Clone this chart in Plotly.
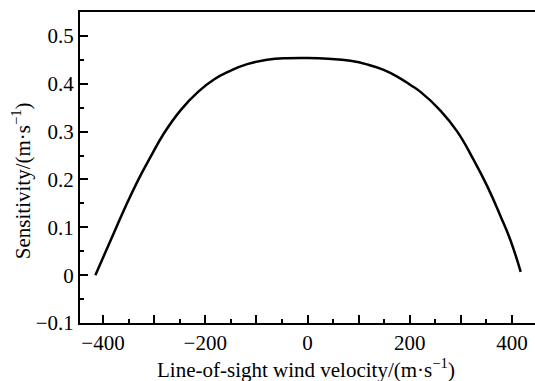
import plotly.graph_objects as go

velocity = [-415, -385, -359, -333, -307, -281, -248, -213, -183, -151, -118, -79, -40, 0,
            40, 84, 118, 149, 177, 202, 221, 260, 293, 325, 352, 378, 397, 417]
sensitivity = [0.0, 0.073, 0.136, 0.195, 0.247, 0.296, 0.345, 0.384, 0.409, 0.427, 0.441, 0.450,
               0.4535, 0.454, 0.4525, 0.448, 0.440, 0.429, 0.414, 0.397, 0.383, 0.344, 0.300,
               0.241, 0.185, 0.122, 0.073, 0.007]

x_ticks = [-400, -300, -200, -100, 0, 100, 200, 300, 400]
x_labels = ["−400", "", "−200", "", "0", "", "200", "", "400"]
y_ticks = [-0.1, 0, 0.1, 0.2, 0.3, 0.4, 0.5]
y_labels = ["−0.1", "0", "0.1", "0.2", "0.3", "0.4", "0.5"]

font_family = "Liberation Serif"
tick_font = dict(family=font_family, size=21, color="black")

fig = go.Figure()
fig.add_trace(go.Scatter(x=velocity, y=sensitivity, mode="lines",
                         line=dict(color="black", width=2.5, shape="spline", smoothing=1.3),
                         showlegend=False))

fig.update_layout(
    width=535, height=381,
    margin=dict(l=80, r=0, t=12, b=58),
    paper_bgcolor="white", plot_bgcolor="white",
    font=dict(family=font_family, size=20, color="black"),
)
fig.update_xaxes(
    range=[-445, 445], showgrid=False, zeroline=False,
    showline=True, linecolor="black", linewidth=2, mirror=True,
    ticks="inside", ticklen=8, tickwidth=1.5, tickcolor="black",
    tickvals=x_ticks, ticktext=x_labels, tickfont=tick_font,
    minor=dict(ticks="inside", ticklen=4, tickwidth=1.5, tickcolor="black", dtick=50, tick0=0, showgrid=False),
)
fig.update_yaxes(
    range=[-0.1, 0.55], showgrid=False, zeroline=False,
    showline=True, linecolor="black", linewidth=2, mirror=False,
    ticks="inside", ticklen=8, tickwidth=1.5, tickcolor="black",
    tickvals=y_ticks, ticktext=y_labels, tickfont=tick_font,
    minor=dict(ticks="inside", ticklen=4, tickwidth=1.5, tickcolor="black", dtick=0.05, tick0=0, showgrid=False),
)

fig.add_annotation(text="Line-of-sight wind velocity/(m·s<sup>−1</sup>)",
                   xref="paper", yref="paper", x=0.496, y=-0.146,
                   xanchor="center", yanchor="middle", showarrow=False,
                   font=dict(family=font_family, size=21, color="black"))
fig.add_annotation(text="Sensitivity/(m·s<sup>−1</sup>)",
                   xref="paper", yref="paper", x=-0.127, y=0.4566,
                   xanchor="center", yanchor="middle", showarrow=False, textangle=-90,
                   font=dict(family=font_family, size=21, color="black"))

fig.write_html("out.html")
